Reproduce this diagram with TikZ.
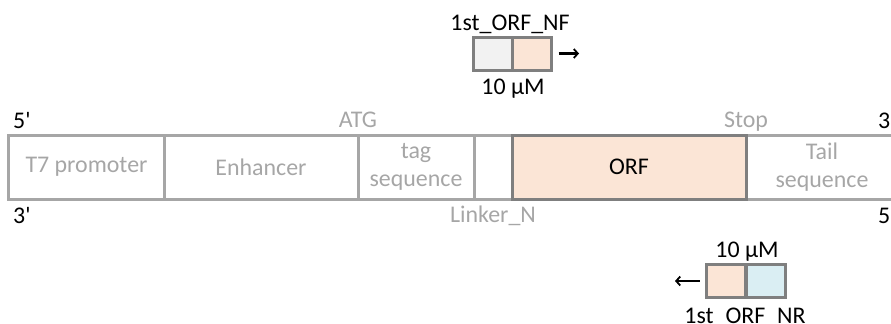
\documentclass[tikz,border=0pt]{standalone}
\usepackage{fontspec}
\setmainfont{Carlito}
\usetikzlibrary{arrows.meta}
\definecolor{lgray}{HTML}{A6A6A6}
\definecolor{dgray}{HTML}{7F7F7F}
\definecolor{orfc}{HTML}{FBE5D6}
\definecolor{bluc}{HTML}{DAEEF3}
\definecolor{pgray}{HTML}{F2F2F2}
\newcommand\myfs{\fontsize{24}{28}\selectfont}
\newcommand\pr{\textquotesingle}
\tikzset{
  seg/.style={draw=lgray,line width=3bp,minimum height=64bp,inner sep=0pt,text=lgray,align=center,font=\myfs},
  orfbox/.style={seg,draw=dgray,fill=orfc,text=black},
  pbox/.style={draw=dgray,line width=3bp,minimum width=39bp,minimum height=33bp,inner sep=0pt},
  glbl/.style={text=lgray,font=\myfs,inner sep=0pt},
  blbl/.style={text=black,font=\myfs,inner sep=0pt},
  arr/.style={line width=2.2bp,-{Straight Barb[length=4bp,width=9bp,line width=1.8bp]}}
}
\begin{document}
\begin{tikzpicture}[x=1bp,y=-1bp]
\useasboundingbox (0,0) rectangle (891,323);
% main construct
\node[seg,minimum width=155bp] (t7) at (86.5,167) {T7 promoter};
\node[seg,minimum width=194bp] (enh) at (261,167) {Enhancer};
\node[seg,minimum width=116bp] (tag) at (416,167) {tag\\sequence};
\node[seg,minimum width=38bp] (lnk) at (493,167) {};
\node[seg,minimum width=152bp] (tail) at (822,167) {Tail\\sequence};
\node[orfbox,minimum width=234bp] (orf) at (629,167) {ORF};
% end labels
\node[blbl,anchor=base west] (p5l) at (13,128) {5\pr};
\node[blbl,anchor=base west] (p3l) at (13,223) {3\pr};
\node[blbl,anchor=base west] (p3r) at (878,128) {3\pr};
\node[blbl,anchor=base west] (p5r) at (878,223) {5\pr};
\node[glbl,anchor=base] (atg) at (358,127.5) {ATG};
\node[glbl,anchor=base] (stop) at (746,127.5) {Stop};
\node[glbl,anchor=base] (linker) at (493,222.5) {Linker\_N};
% forward primer
\node[pbox,fill=pgray] (fa) at (492.5,53.5) {};
\node[pbox,fill=orfc] (fb) at (531.5,53.5) {};
\node[blbl,anchor=base] (fname) at (510,30.5) {1st\_ORF\_NF};
\node[blbl,anchor=base] (fconc) at (513,94) {10 µM};
\coordinate (fend) at (579,53.5);
\draw[arr] ([xshift=6bp]fb.east) -- (fend);
% reverse primer
\node[pbox,fill=orfc] (ra) at (725.5,281) {};
\node[pbox,fill=bluc] (rb) at (765.5,281) {};
\node[blbl,anchor=base] (rconc) at (747,257.5) {10 µM};
\node[blbl,anchor=base] (rname) at (745,323.5) {1st\_ORF\_NR};
\coordinate (rend) at (675,281);
\draw[arr] ([xshift=-5bp]ra.west) -- (rend);
\end{tikzpicture}
\end{document}
